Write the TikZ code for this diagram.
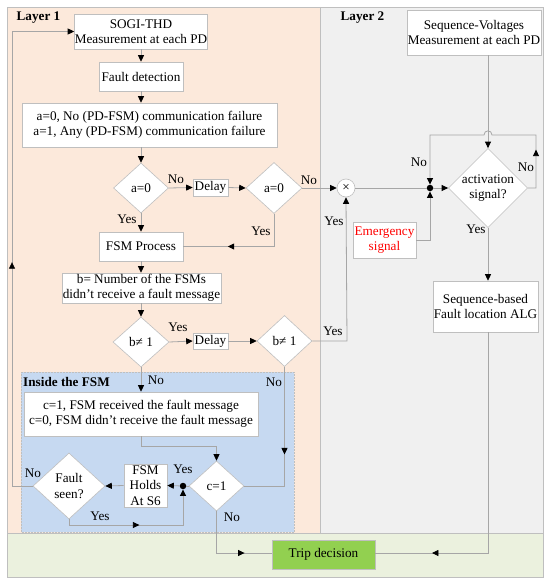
\documentclass[tikz,border=0pt]{standalone}
\usepackage{fontspec}
\setmainfont{Liberation Serif}
\usetikzlibrary{arrows.meta,shapes.geometric,decorations.markings}
\definecolor{peach}{HTML}{FCE9DB}
\definecolor{greyreg}{HTML}{F0F0F0}
\definecolor{greenreg}{HTML}{EBF1DE}
\definecolor{bluereg}{HTML}{C6D9F1}
\definecolor{tripg}{HTML}{92D050}
\definecolor{lncol}{HTML}{A6A6A6}
\definecolor{boxline}{HTML}{BFBFBF}
\begin{document}
\begin{tikzpicture}[x=1pt,y=-1pt,
  font=\fontsize{13.2}{15.5}\selectfont,
  region/.style={draw=boxline, line width=0.6pt},
  box/.style={draw=boxline, fill=white, align=center, inner sep=0pt, line width=0.6pt},
  dia/.style={diamond, draw=boxline, fill=white, align=center, inner sep=0pt, line width=0.6pt},
  ln/.style={draw=lncol, line width=0.8pt},
  tip/.style={-{Triangle[color=black,length=6.5pt,width=6pt]}},
  marr/.style={postaction={decorate, decoration={markings, mark=at position #1 with {\arrow{Triangle[color=black,length=6.5pt,width=6pt]}}}}},
  lab/.style={inner sep=0pt},
  dotn/.style={circle, fill=black, inner sep=0pt, minimum size=6.5pt}
]
\useasboundingbox (0,0) rectangle (550,586);
% regions
\fill[peach] (7,7) rectangle (320,533);
\fill[greyreg] (320,7) rectangle (543,533);
\fill[greenreg] (7,533) rectangle (543,577);
\draw[region] (7,7) rectangle (543,577);
\draw[region] (320,7) -- (320,533);
\draw[region] (7,533) -- (543,533);
\fill[bluereg] (21,372) rectangle (294,532);
\draw[boxline, densely dotted, line width=0.5pt] (21,372) rectangle (294,532);
\node[lab, font=\fontsize{13.2}{15.5}\selectfont\bfseries] (l1) at (38.5,18) {Layer 1};
\node[lab, font=\fontsize{13.2}{15.5}\selectfont\bfseries] (l2) at (362.5,18) {Layer 2};
\node[lab, font=\fontsize{13.2}{15.5}\selectfont\bfseries] (lf) at (66.5,382) {Inside the FSM};

% nodes
\node[box, minimum width=133pt, minimum height=35pt] (sogi) at (141,31.5) {SOGI-THD\\Measurement at each PD};
\node[box, minimum width=84pt, minimum height=29pt] (fault) at (141,76.5) {Fault detection};
\node[box, minimum width=255pt, minimum height=44pt] (abox) at (149.5,125) {a=0, No (PD-FSM) communication failure\\a=1, Any (PD-FSM) communication failure};
\node[dia, minimum width=55pt, minimum height=50pt] (d1) at (141,188) {a=0};
\node[box, minimum width=35pt, minimum height=17pt] (del1) at (210.5,187.5) {Delay};
\node[dia, minimum width=56pt, minimum height=51pt] (d2) at (274,188) {a=0};
\node[circle, draw=boxline, fill=white, minimum size=18pt, inner sep=0pt, line width=0.6pt] (mult) at (346,188) {×};
\node[dotn] (j1) at (430,188) {};
\node[dia, minimum width=76pt, minimum height=69pt] (act) at (488,188) {activation\\signal?};
\node[box, minimum width=134pt, minimum height=45pt] (seqv) at (474,32.5) {Sequence-Voltages\\Measurement at each PD};
\node[box, minimum width=63pt, minimum height=36pt, text=red] (emg) at (384.5,240) {Emergency\\signal};
\node[box, minimum width=105pt, minimum height=51pt] (seqb) at (485.5,306.5) {Sequence-based\\Fault location ALG};
\node[box, minimum width=84pt, minimum height=29pt] (fsm) at (141,246.5) {FSM Process};
\node[box, minimum width=159pt, minimum height=30pt] (bbox) at (141.5,288) {b= Number of the FSMs\\didn't receive a fault message};
\node[dia, minimum width=56pt, minimum height=50pt] (d3) at (141,342) {b≠ 1};
\node[box, minimum width=35pt, minimum height=16pt] (del2) at (210.5,341) {Delay};
\node[dia, minimum width=55pt, minimum height=51pt] (d4) at (284.5,341) {b≠ 1};
\node[box, minimum width=234pt, minimum height=44pt] (cbox) at (141,414) {c=1, FSM received the fault message\\c=0, FSM didn’t receive the fault message};
\node[dia, minimum width=55pt, minimum height=50pt] (d5) at (216.5,486) {c=1};
\node[dotn] (j2) at (183,486) {};
\node[box, minimum width=43pt, minimum height=43pt] (hold) at (145.5,485.5) {FSM\\Holds\\At S6};
\node[dia, minimum width=72pt, minimum height=66pt] (fs) at (69,486) {Fault\\seen?};
\node[box, draw=boxline, fill=tripg, minimum width=103pt, minimum height=29pt] (trip) at (323.5,554.5) {Trip decision};

% connectors
\draw[ln,tip] (sogi) -- (fault);
\draw[ln,tip] (fault) -- (fault |- abox.north);
\draw[ln,tip] (abox.south -| d1) -- (d1.north);
\draw[ln,tip] (d1.east) -- (del1.west);
\node[lab] (n1) at (176,179) {No};
\draw[ln,tip] (del1.east) -- (d2.west);
\draw[ln,tip] (d2.east) -- (mult.west);
\node[lab] (n2) at (309,180) {No};
\draw[ln,marr=0.64] (d2.south) -- (274,246.5) -- (fsm.east);
\node[lab] (y2) at (261,231) {Yes};
\draw[ln,tip] (d1.south) -- (fsm.north);
\node[lab] (y1) at (127,219) {Yes};
\draw[ln,tip] (fsm) -- (fsm |- bbox.north);
\draw[ln,tip] (bbox.south -| d3) -- (d3.north);
\draw[ln,tip] (d3.east) -- (del2.west);
\node[lab] (y3) at (178,327) {Yes};
\draw[ln,tip] (del2.east) -- (d4.west);
\draw[ln,tip] (d4.east) -- (347,341) -- (mult.south);
\node[lab] (y4) at (333,331) {Yes};
\node[lab] (y5) at (334,221) {Yes};
\draw[ln] (mult.east) -- (j1);
\draw[ln,tip] (j1) -- (act.west);
\draw[ln,tip] (seqv.south -| act) -- (act.north);
\draw[ln,marr=0.21,tip] (act.east) -- (536,188) -- (536,135) -- (492,135) .. controls (492,129.5) and (484,129.5) .. (484,135) -- (430,135) -- (j1.north);
\node[lab] (n3) at (419,162) {No};
\node[lab] (n4) at (526,167) {No};
\draw[ln,tip] (emg.east) -- (430,240) -- (j1.south);
\draw[ln,tip] (act.south) -- (act.south |- seqb.north);
\node[lab] (y6) at (476,229) {Yes};
\draw[ln,marr=0.83] (seqb.south -| act) -- (488,553) -- (trip.east |- 0,553);
\draw[ln,tip] (d3.south) -- (cbox.north -| d3);
\node[lab] (n5) at (156,380) {No};
\draw[ln,tip] (cbox.south -| d3) -- (141,446) -- (216.5,446) -- (d5.north);
\draw[ln,marr=0.55] (d4.south) -- (284.5,486) -- (d5.east);
\node[lab] (n6) at (274,382) {No};
\draw[ln] (d5.west) -- (j2);
\draw[ln,tip] (j2) -- (hold.east);
\node[lab] (y7) at (183,469) {Yes};
\draw[ln,tip] (hold.west) -- (fs.east);
\draw[ln,marr=0.455,tip] (fs.west) -- (12,486) -- (12,31.5) -- (sogi.west);
\node[lab] (n7) at (33,473) {No};
\draw[ln,marr=0.49,tip] (fs.south) -- (69,525) -- (183,525) -- (j2.south);
\node[lab] (y8) at (100,516) {Yes};
\draw[ln,marr=0.72] (d5.south) -- (216.5,553) -- (trip.west |- 0,553);
\node[lab] (n8) at (232,517) {No};
\end{tikzpicture}
\end{document}
